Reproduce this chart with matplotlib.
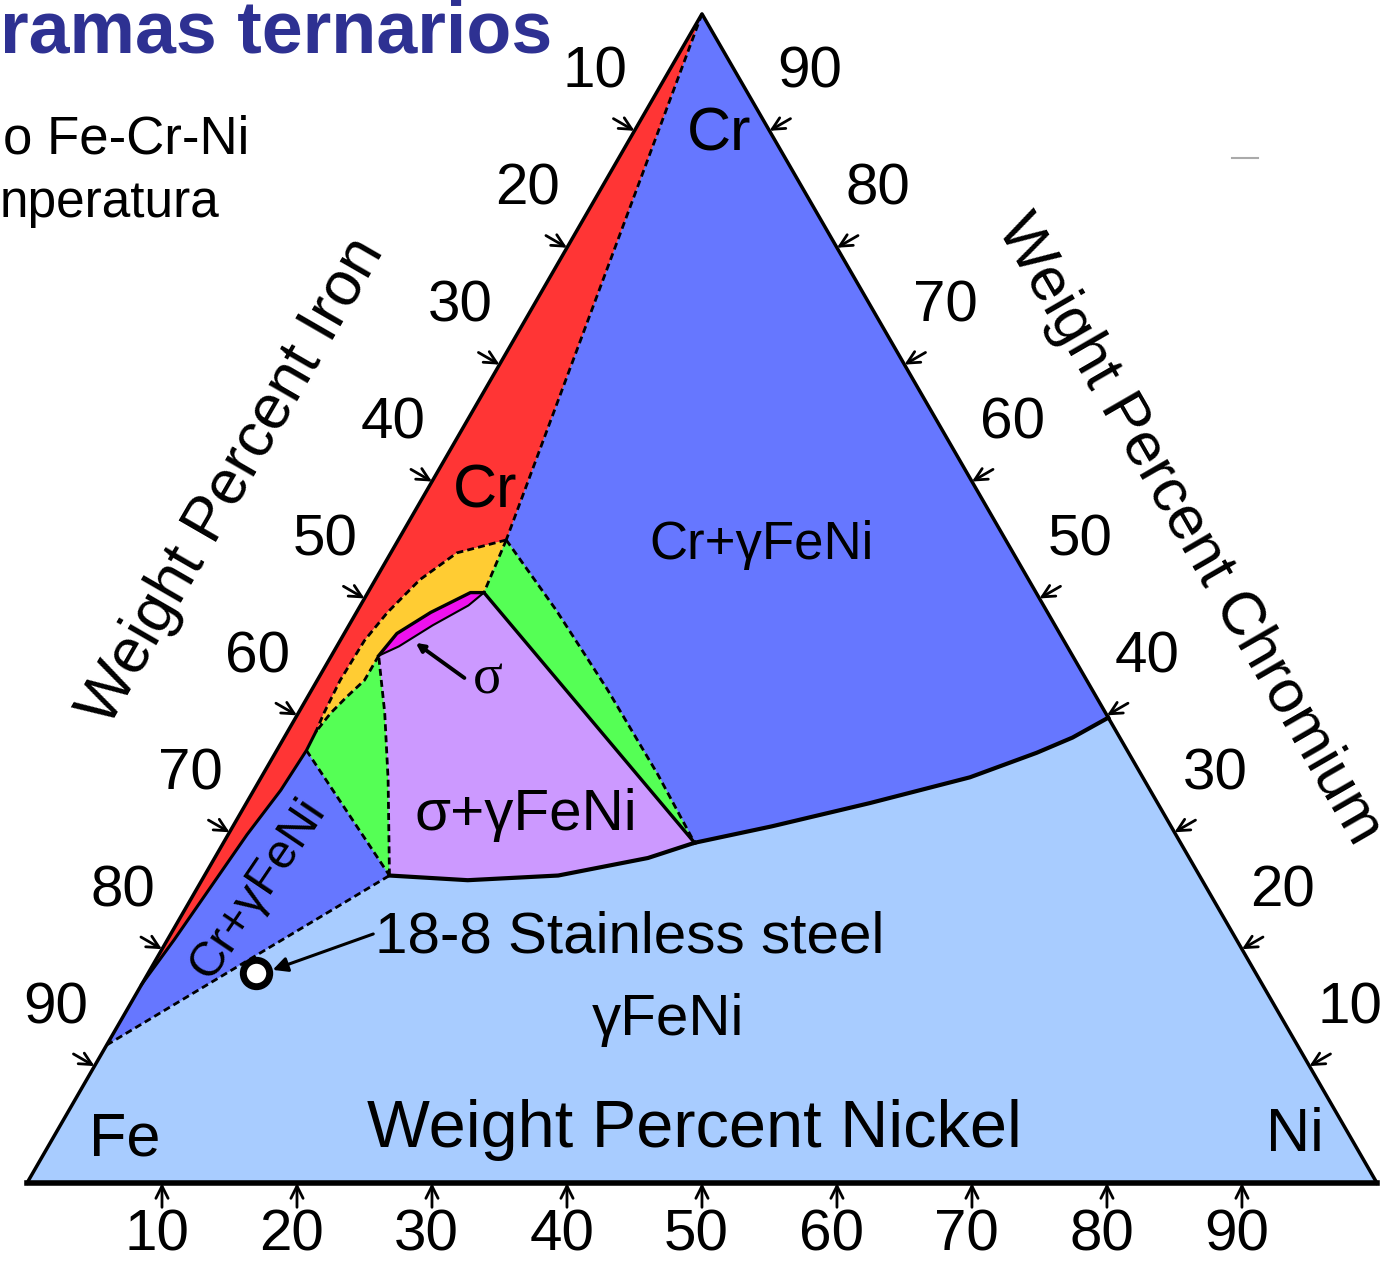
import matplotlib
matplotlib.use("Agg")
import matplotlib.pyplot as plt
from matplotlib.lines import Line2D
import numpy as np

plt.rcParams['font.family'] = ['Liberation Sans', 'DejaVu Sans']

# phase boundaries as (wt% Ni, wt% Cr); Fe is the balance
cr_alpha_edge = [(0.0, 100.0), (8.0, 55.0)]
red_yellow = [(8.0, 55.0), (4.9, 53.9), (3.3, 51.6), (2.3, 48.8), (1.8, 46.4),
              (1.7, 43.0), (1.9, 40.2), (2.1, 38.6)]
red_lower = [(2.1, 38.6), (2.2, 37.0), (2.0, 33.6), (1.4, 29.8), (0.9, 24.8),
             (0.5, 20.8), (0.0, 17.0)]
yellow_right = [(8.0, 55.0), (8.6, 50.5)]
sigma_top = [(3.5, 45.1), (3.9, 47.0), (5.5, 48.8), (7.6, 50.5), (8.6, 50.5)]
sigma_bottom = [(3.5, 45.1), (4.6, 45.9), (6.2, 47.7), (8.0, 49.4), (8.6, 50.5)]
yellow_green = [(3.5, 45.1), (3.5, 43.0), (2.9, 41.6), (2.4, 40.2), (2.1, 38.6)]
green_blue_lower = [(2.2, 37.0), (13.7, 26.3)]
sigma_gamma_left = [(13.7, 26.3), (9.5, 34.5), (6.4, 40.2), (3.5, 45.1)]
lowerleft_gamma = [(0.0, 11.8), (13.7, 26.3)]
sigma_gamma_bottom = [(13.7, 26.3), (19.7, 25.9), (26.2, 26.3), (32.1, 27.8), (34.9, 29.1)]
sigma_gamma_right = [(8.6, 50.5), (34.9, 29.1)]
green_blue_right = [(8.0, 55.0), (14.7, 49.0), (21.9, 42.2), (29.3, 34.9), (34.9, 29.1)]
cr_gamma_bottom = [(34.9, 29.1), (39.9, 30.5), (46.2, 32.5), (52.5, 34.7),
                   (56.4, 36.8), (58.4, 38.1), (60.2, 39.8)]

steel_18_8 = (8.0, 18.0)   # Ni, Cr
tick_values = [10, 20, 30, 40, 50, 60, 70, 80, 90]

c_gamma = '#A8CCFF'
c_blue = '#6677FF'
c_red = '#FF3535'
c_green = '#55FF55'
c_yellow = '#FFCC33'
c_sigma = '#EE11EE'
c_purple = '#CC99FF'


def tern(points):
    p = np.asarray(points, dtype=float)
    return p[:, 0] + p[:, 1] / 2, p[:, 1] * np.sqrt(3) / 2


def xy(ni, cr):
    return ni + cr / 2, cr * np.sqrt(3) / 2


def rev(points):
    return list(points)[::-1]


fig = plt.figure(figsize=(13.98, 12.69), dpi=100)
ax = fig.add_axes([0, 0, 1, 1])
ax.set_xlim(-2.0, 101.56)
ax.set_ylim(-6.37, 87.63)
ax.axis('off')


def fill(points, color):
    x, y = tern(points)
    ax.fill(x, y, color=color, lw=0, zorder=1)


def line(points, dashed=False, lw=2.0):
    x, y = tern(points)
    ax.plot(x, y, color='black', lw=lw, ls=(0, (2.5, 1.5)) if dashed else '-',
            zorder=3)


# fields
fill([(0, 0), (100, 0), (0, 100)], c_gamma)
fill(cr_alpha_edge + green_blue_right + cr_gamma_bottom + [(0, 100)], c_blue)
fill([(0, 100), (0, 17.0)] + rev(red_lower) + rev(red_yellow), c_red)
fill(red_yellow + rev(yellow_green) + sigma_top + [(8.0, 55.0)], c_yellow)
fill(sigma_bottom + sigma_gamma_right + rev(sigma_gamma_bottom) + sigma_gamma_left, c_purple)
fill(sigma_top + rev(sigma_bottom), c_sigma)
fill(yellow_green + red_lower[:2] + green_blue_lower + sigma_gamma_left, c_green)
fill(red_lower[1:] + lowerleft_gamma + rev(green_blue_lower), c_blue)
fill(green_blue_right + rev(sigma_gamma_right) + [(8.0, 55.0)], c_green)

# boundaries
line(cr_alpha_edge, dashed=True)
line(red_yellow, dashed=True)
line(red_lower, lw=2.2)
line(yellow_right, dashed=True)
line(sigma_top, lw=2.4)
line(sigma_bottom, lw=1.5)
line(yellow_green, dashed=True)
line(green_blue_lower, dashed=True)
line(sigma_gamma_left, dashed=True)
line(lowerleft_gamma, dashed=True)
line(sigma_gamma_bottom, lw=3.0)
line(sigma_gamma_right, lw=2.4)
line(green_blue_right, dashed=True)
line(cr_gamma_bottom, lw=3.0)

# triangle frame
line([(0, 0), (0, 100), (100, 0)], lw=2.5)
line([(0, 0), (100, 0)], lw=4.0)

# ticks and tick labels
s3 = np.sqrt(3) / 2
arrow_kw = dict(arrowstyle='->', lw=2.0, color='black', shrinkA=0, shrinkB=0,
                mutation_scale=22)
for v in tick_values:
    # bottom: Ni
    bx, by = xy(v, 0)
    ax.annotate('', xy=(bx, by), xytext=(bx, by - 1.8), arrowprops=arrow_kw)
    ax.text(bx - 0.4, by - 3.9, str(v), fontsize=42, ha='center', va='center')
    # left: Fe
    lx, ly = xy(0, 100 - v)
    ax.annotate('', xy=(lx, ly), xytext=(lx - 1.8 * s3, ly + 0.9), arrowprops=arrow_kw)
    ax.text(lx - 2.9, ly + 4.3, str(v), fontsize=42, ha='center', va='center')
    # right: Cr
    rx, ry = xy(100 - v, v)
    ax.annotate('', xy=(rx, ry), xytext=(rx + 1.8 * s3, ry + 0.9), arrowprops=arrow_kw)
    ax.text(rx + 3.0, ry + 4.3, str(v), fontsize=42, ha='center', va='center')

# axis titles and corners
ax.text(*xy(47.2, 4.5), 'Weight Percent Nickel', fontsize=48, ha='center', va='center')
ax.text(*xy(-14.8, 60.0), 'Weight Percent Iron', fontsize=45, ha='center', va='center',
        rotation=60, rotation_mode='anchor')
ax.text(*xy(58.1, 55.85), 'Weight Percent Chromium', fontsize=44, ha='center', va='center',
        rotation=-60, rotation_mode='anchor')
ax.text(*xy(5.4, 3.7), 'Fe', fontsize=44, ha='center', va='center')
ax.text(*xy(91.9, 4.1), 'Ni', fontsize=44, ha='center', va='center')
ax.text(*xy(6.5, 89.6), 'Cr', fontsize=44, ha='center', va='center')

# field labels
ax.text(*xy(4.4, 59.1), 'Cr', fontsize=44, ha='center', va='center', zorder=5)
ax.text(*xy(27.1, 54.6), 'Cr+γFeNi', fontsize=38, ha='center', va='center', zorder=5)
ax.text(*xy(21.2, 31.5), 'σ+γFeNi', fontsize=42, ha='center', va='center', zorder=5)
ax.text(*xy(12.6, 43.1), 'σ', fontsize=40, ha='center', va='center', zorder=5,
        family='Liberation Serif')
ax.annotate('', xy=xy(5.7, 46.2), xytext=xy(10.8, 43.2),
            arrowprops=dict(arrowstyle='-|>', lw=2.8, color='black',
                            shrinkA=0, shrinkB=0, mutation_scale=12), zorder=5)
ax.text(*xy(4.5, 25.2), 'Cr+γFeNi', fontsize=35, ha='center', va='center',
        rotation=56, rotation_mode='anchor', zorder=5)
ax.text(*xy(15.3, 21.0), '18-8 Stainless steel', fontsize=42, ha='left', va='center',
        zorder=5)
ax.text(*xy(40.5, 13.9), 'γFeNi', fontsize=42, ha='center', va='center', zorder=5)

sx, sy = xy(*steel_18_8)
ax.annotate('', xy=(sx + 1.2, sy + 0.2), xytext=xy(15.0, 21.3),
            arrowprops=dict(arrowstyle='-|>', lw=2.2, color='black',
                            shrinkA=0, shrinkB=0, mutation_scale=22), zorder=5)
ax.plot([sx], [sy], 'o', ms=19, mfc='white', mec='black', mew=5, zorder=6)

# slide header
fig.text(0.0, 0.959, 'ramas ternarios', fontsize=53, fontweight='bold',
         color='#2E3192', ha='left', va='baseline')
fig.text(0.002, 0.8794, 'o Fe-Cr-Ni', fontsize=38, ha='left', va='baseline')
fig.text(0.0, 0.829, 'nperatura', fontsize=37, ha='left', va='baseline')
fig.add_artist(Line2D([0.881, 0.900], [0.8755, 0.8755], color='#AAAAAA', lw=1.5))

fig.savefig('out.png', dpi=100)
